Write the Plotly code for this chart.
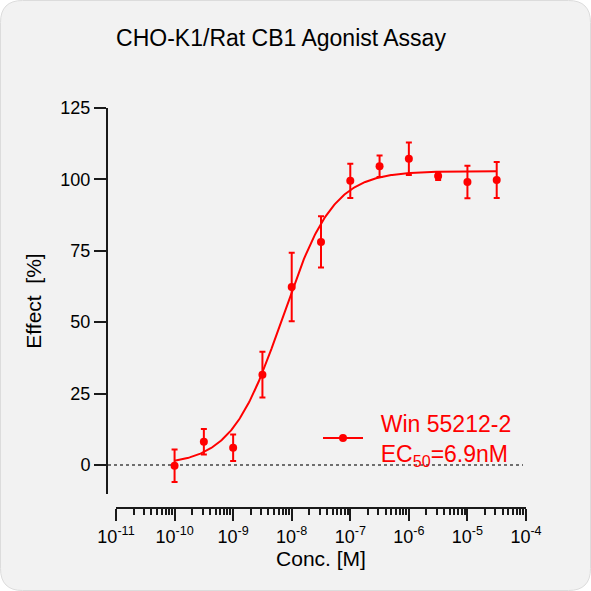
import numpy as np
import plotly.graph_objects as go

# ---- data ----
log_conc = [-10, -9.5, -9, -8.5, -8, -7.5, -7, -6.5, -6, -5.5, -5, -4.5]
effect = [-0.3, 8.1, 6.0, 31.6, 62.3, 78.1, 99.5, 104.6, 107.2, 101.2, 99.1, 99.8]
error = [5.7, 4.5, 4.6, 8.0, 12.0, 9.0, 6.0, 3.8, 5.7, 1.4, 5.7, 6.3]

# 4-parameter logistic fit shown in the chart
fit_bottom = 0.0
fit_top = 102.9
fit_ec50 = 6.9e-9
fit_hill = 1.0

series_name = "\u00a0\u00a0Win 55212-2<br>\u00a0\u00a0EC<sub>50</sub>=6.9nM"
title_text = "CHO-K1/Rat CB1 Agonist Assay"
x_title = "Conc. [M]"
y_title = "Effect  [%]"
x_decades = [-11, -10, -9, -8, -7, -6, -5, -4]
y_ticks = [0, 25, 50, 75, 100, 125]

conc = [10.0 ** v for v in log_conc]
curve_x = np.logspace(log_conc[0], log_conc[-1], 300)
curve_y = fit_bottom + (fit_top - fit_bottom) / (1 + (fit_ec50 / curve_x) ** fit_hill)

RED = "#ff0000"
FONT = "Arial, Liberation Sans, sans-serif"

# layout geometry (pixels)
W = H = 591
L, R, T, B = 107, 65, 108, 83
pw, ph = W - L - R, H - T - B


def px(xp):
    return (xp - L) / pw


def py(yp):
    return (H - B - yp) / ph


fig = go.Figure()

fig.add_trace(go.Scatter(
    x=curve_x, y=curve_y, mode="lines",
    line=dict(color=RED, width=2), showlegend=False, hoverinfo="skip",
))
fig.add_trace(go.Scatter(
    x=conc, y=effect, mode="markers",
    marker=dict(color=RED, size=8),
    error_y=dict(type="data", array=error, color=RED, thickness=2, width=3),
    showlegend=False,
))
# legend entry (line + marker symbol)
fig.add_trace(go.Scatter(
    x=[None], y=[None], mode="lines+markers",
    line=dict(color=RED, width=2), marker=dict(color=RED, size=8),
    name=series_name, showlegend=True,
))

minor_vals = [k * 10.0 ** d for d in x_decades[:-1] for k in range(2, 10)]

# rounded background
x0, x1 = px(0.5), px(590.5)
y0, y1 = py(590.5), py(0.5)
rx, ry = 22 / pw, 22 / ph
path = (f"M{x0 + rx},{y1} L{x1 - rx},{y1} Q{x1},{y1} {x1},{y1 - ry} "
        f"L{x1},{y0 + ry} Q{x1},{y0} {x1 - rx},{y0} L{x0 + rx},{y0} "
        f"Q{x0},{y0} {x0},{y0 + ry} L{x0},{y1 - ry} Q{x0},{y1} {x0 + rx},{y1} Z")

fig.update_layout(
    width=W, height=H,
    margin=dict(l=L, r=R, t=T, b=B),
    paper_bgcolor="white", plot_bgcolor="rgba(0,0,0,0)",
    font=dict(family=FONT, color="black"),
    title=dict(text=title_text, x=281 / W, xanchor="center", y=1 - 38 / H, yanchor="middle",
               font=dict(size=23, color="black")),
    shapes=[
        dict(type="path", path=path, xref="paper", yref="paper",
             fillcolor="#f2f2f2", line=dict(color="#dcdcdc", width=1), layer="below"),
        dict(type="line", xref="paper", yref="y", x0=px(108), x1=px(523), y0=0, y1=0,
             line=dict(color="#444444", width=1.5, dash="dot"), layer="below"),
    ],
    legend=dict(x=px(318), xanchor="left", y=py(438), yanchor="middle",
                bgcolor="rgba(0,0,0,0)", font=dict(size=23, color=RED),
                itemwidth=40),
    showlegend=True,
)

fig.update_xaxes(
    type="log", range=[x_decades[0], x_decades[-1]],
    domain=[px(116), 1], anchor="free", position=0,
    showgrid=False, zeroline=False,
    showline=True, linecolor="#1a1a1a", linewidth=2,
    tickmode="array", tickvals=[10.0 ** d for d in x_decades],
    ticktext=[f"10<sup>{d}</sup>" for d in x_decades],
    ticks="outside", ticklen=12, tickwidth=2, tickcolor="#1a1a1a",
    tickfont=dict(size=18, color="black"),
    minor=dict(tickmode="array", tickvals=minor_vals, ticks="outside", ticklen=6,
               tickwidth=1.5, tickcolor="#1a1a1a", showgrid=False),
    title=dict(text=x_title, font=dict(size=21, color="black"), standoff=4),
)
fig.update_yaxes(
    range=[-10.2, 125], domain=[py(494), 1], anchor="free", position=0,
    showgrid=False, zeroline=False,
    showline=True, linecolor="#1a1a1a", linewidth=2,
    tickmode="array", tickvals=y_ticks,
    ticks="outside", ticklen=12, tickwidth=2, tickcolor="#1a1a1a",
    tickfont=dict(size=18, color="black"),
    title=dict(text=y_title, font=dict(size=21, color="black"), standoff=12),
)

fig.write_html("out.html")
